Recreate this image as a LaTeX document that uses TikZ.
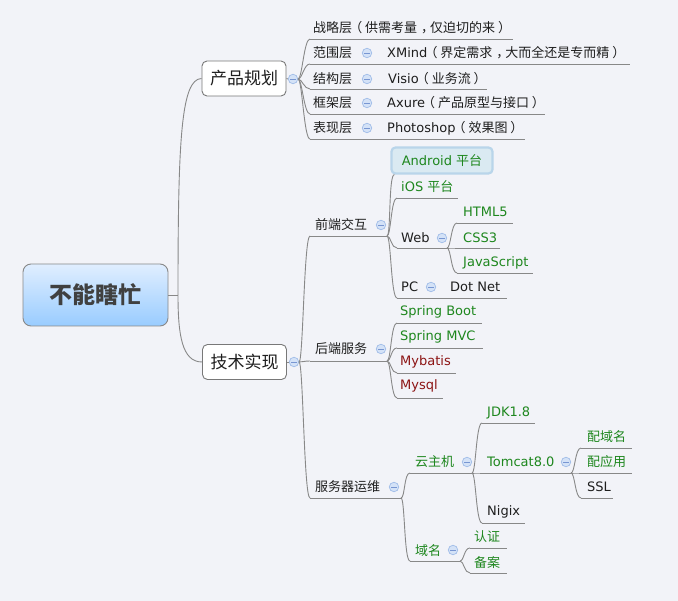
\documentclass[tikz,border=0pt]{standalone}
\usepackage{fontspec}
\setmainfont{DejaVu Sans}
\newfontfamily\cjk{Noto Sans CJK SC}
\newcommand\zh[1]{{\cjk #1}}
\newcommand\lp{\makebox[1em][l]{\kern-0.22em\cjk （}}
\newcommand\rp{\makebox[1em][l]{\kern0.22em\cjk ）}}
\newcommand\cm{\makebox[1em][l]{\kern0.3em\cjk ，}}
\usetikzlibrary{calc}
\definecolor{bg}{RGB}{242,243,248}
\definecolor{ln}{RGB}{136,136,136}
\definecolor{gr}{RGB}{30,135,30}
\definecolor{rd}{RGB}{140,20,20}
\definecolor{tx}{RGB}{30,30,30}
\definecolor{mkf}{RGB}{212,226,247}
\definecolor{mkd}{RGB}{160,188,232}
\definecolor{mkm}{RGB}{120,150,210}
\definecolor{boxd}{RGB}{120,120,120}
\definecolor{roott}{RGB}{64,64,64}
\definecolor{rtop}{RGB}{224,238,255}
\definecolor{rbot}{RGB}{153,204,255}
\definecolor{andf}{RGB}{218,234,242}
\definecolor{andd}{RGB}{185,213,234}
\newcommand\uline[4]{\coordinate (#1-a) at (#2,#4); \coordinate (#1-b) at (#3,#4); \draw[cn] (#1-a) -- (#1-b);}
\newcommand\curve[2]{\draw[cn] (#1) .. controls ($(#1)+(4,0)$) and ($(#2)+(-6,0)$) .. (#2);}
\begin{document}
\begin{tikzpicture}[x=1pt,y=-1pt,
  cn/.style={draw=ln,line width=0.9pt},
  t/.style={anchor=base west,inner sep=0pt,font=\fontsize{13}{15}\selectfont,text=tx},
  g/.style={t,text=gr},
  r/.style={t,text=rd},
  topic/.style={draw=boxd,fill=white,rounded corners=5pt,line width=0.9pt,minimum width=84pt,minimum height=35pt,inner sep=0pt,font=\fontsize{17}{20}\selectfont\cjk,text=tx},
  mk/.style={circle,draw=mkd,fill=mkf,minimum size=9.5pt,inner sep=0pt,line width=0.7pt,
    path picture={\draw[mkm,line width=0.9pt] ([xshift=-2.6pt]path picture bounding box.center) -- ([xshift=2.6pt]path picture bounding box.center);}}
  ]
\fill[bg] (0,0) rectangle (678,601);
\useasboundingbox (0,0) rectangle (678,601);

% root
\node[draw=ln,rounded corners=8pt,top color=rtop,bottom color=rbot,minimum width=145pt,minimum height=62pt,line width=0.9pt,inner sep=0pt,font=\fontsize{23}{26}\selectfont\cjk\bfseries,text=roott] (root) at (95.5,295) {不能瞎忙};
\node[topic] (cp) at (244,78.5) {产品规划};
\node[topic] (js) at (244.5,362) {技术实现};
\coordinate (r0) at (178,295);
\draw[cn] (root.east) -- (r0);
\draw[cn] (r0) .. controls (178,140) and (181,79) .. (cp.west);
\draw[cn] (r0) .. controls (178,335) and (182,362) .. (js.west);

% product planning
\node[mk] (m-cp) at (293,79) {};
\draw[cn] (cp.east) -- (m-cp.west);
\uline{zl}{310}{513}{39}
\uline{fw}{310}{630}{64}
\uline{jg}{310}{487}{89}
\uline{kj}{310}{545}{114}
\uline{bx}{310}{525}{139}
\curve{m-cp.east}{zl-a}
\curve{m-cp.east}{fw-a}
\curve{m-cp.east}{jg-a}
\curve{m-cp.east}{kj-a}
\curve{m-cp.east}{bx-a}
\node[t] (zl) at (313,33) {\zh{战略层}\lp\zh{供需考量}\cm\zh{仅迫切的来}\rp};
\node[t] (fw) at (313,58) {\zh{范围层}};
\node[mk] (m-fw) at (367,53) {};
\node[t] (fw2) at (387,58) {XMind\lp\zh{界定需求}\cm\zh{大而全还是专而精}\rp};
\node[t] (jg) at (313,84) {\zh{结构层}};
\node[mk] (m-jg) at (367,79) {};
\node[t] (jg2) at (388,84) {Visio\lp\zh{业务流}\rp};
\node[t] (kj) at (313,108) {\zh{框架层}};
\node[mk] (m-kj) at (367,103) {};
\node[t] (kj2) at (387,108) {Axure\lp\zh{产品原型与接口}\rp};
\node[t] (bx) at (313,133) {\zh{表现层}};
\node[mk] (m-bx) at (367,128) {};
\node[t] (bx2) at (387,133) {Photoshop\lp\zh{效果图}\rp};

% tech
\node[mk] (m-js) at (294,362) {};
\draw[cn] (js.east) -- (m-js.west);
\uline{qd}{310}{387}{236}
\uline{hd}{310}{387}{361}
\uline{fy}{310}{401}{498}
\curve{m-js.east}{qd-a}
\curve{m-js.east}{hd-a}
\curve{m-js.east}{fy-a}
\node[t] (qd) at (315,230) {\zh{前端交互}};
\node[mk] (m-qd) at (381,225) {};
\node[t] (hd) at (315,354) {\zh{后端服务}};
\node[mk] (m-hd) at (381,349) {};
\node[t] (fy) at (315,492) {\zh{服务器运维}};
\node[mk] (m-fy) at (394,487) {};

% front end
\node[draw=andd,fill=andf,line width=2.2pt,rounded corners=4pt,minimum width=101pt,minimum height=26pt,inner sep=0pt,font=\fontsize{13}{15}\selectfont,text=gr] (and) at (442,160.5) {Android \zh{平台}};
\coordinate (and-c) at ($(and.south west)+(4,0)$);
\uline{ios}{397}{458}{198}
\uline{web}{397}{447}{248}
\uline{pc}{397}{507}{298}
\curve{qd-b}{and-c}
\curve{qd-b}{ios-a}
\curve{qd-b}{web-a}
\curve{qd-b}{pc-a}
\node[g] (ios) at (401,192) {iOS \zh{平台}};
\node[t] (web) at (401,243) {Web};
\node[mk] (m-web) at (442,238) {};
\node[t] (pc) at (401,292) {PC};
\node[mk] (m-pc) at (431,287) {};
\node[t] (dn) at (450,292) {Dot Net};
\uline{h5}{457}{513}{223}
\uline{css}{457}{500}{248}
\uline{jsc}{457}{533}{273}
\curve{web-b}{h5-a}
\curve{web-b}{css-a}
\curve{web-b}{jsc-a}
\node[g] (h5) at (463,217) {HTML5};
\node[g] (css) at (463,243) {CSS3};
\node[g] (jsc) at (463,267) {JavaScript};

% back end
\uline{sb}{397}{482}{323}
\uline{sm}{397}{483}{348}
\uline{mb}{397}{456}{373}
\uline{ms}{397}{443}{398}
\curve{hd-b}{sb-a}
\curve{hd-b}{sm-a}
\curve{hd-b}{mb-a}
\curve{hd-b}{ms-a}
\node[g] (sb) at (400,316) {Spring Boot};
\node[g] (sm) at (400,341) {Spring MVC};
\node[r] (mb) at (400,366) {Mybatis};
\node[r] (ms) at (400,390) {Mysql};

% server ops
\uline{yzj}{410}{472}{473}
\uline{ym}{410}{460}{561}
\curve{fy-b}{yzj-a}
\curve{fy-b}{ym-a}
\node[g] (yzj) at (415,467) {\zh{云主机}};
\node[mk] (m-yzj) at (467,462) {};
\node[g] (ym) at (415,555) {\zh{域名}};
\node[mk] (m-ym) at (453,550) {};
\uline{jdk}{482}{535}{423}
\uline{tc}{482}{571}{473}
\uline{ng}{482}{525}{523}
\curve{yzj-b}{jdk-a}
\curve{yzj-b}{tc-a}
\curve{yzj-b}{ng-a}
\node[g] (jdk) at (487,417) {JDK1.8};
\node[g] (tc) at (487,467) {Tomcat8.0};
\node[mk] (m-tc) at (566,462) {};
\node[t] (ng) at (487,516) {Nigix};
\uline{ydm}{581}{632}{448}
\uline{yyy}{581}{632}{473}
\uline{ssl}{581}{613}{498}
\curve{tc-b}{ydm-a}
\curve{tc-b}{yyy-a}
\curve{tc-b}{ssl-a}
\node[g] (ydm) at (587,442) {\zh{配域名}};
\node[g] (yyy) at (587,467) {\zh{配应用}};
\node[t] (ssl) at (587,492) {SSL};
\uline{rz}{470}{507}{548}
\uline{ba}{470}{507}{573}
\curve{ym-b}{rz-a}
\curve{ym-b}{ba-a}
\node[g] (rz) at (474,542) {\zh{认证}};
\node[g] (ba) at (474,568) {\zh{备案}};
\end{tikzpicture}
\end{document}
